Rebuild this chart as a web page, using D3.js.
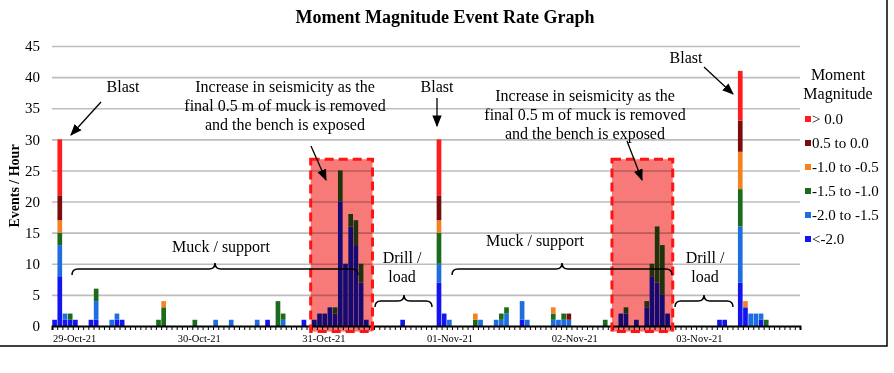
<!doctype html>
<html>
<head>
<meta charset="utf8">
<title>Moment Magnitude Event Rate Graph</title>
<script src="https://cdn.jsdelivr.net/npm/d3@7"></script>
<style>
    body { margin: 0; background: #fff; }
    svg text { font-family: "Liberation Serif", "DejaVu Serif", serif; fill: #000; }
</style>
</head>
<body>
<div id="board"></div>
<script>
"use strict";
// hours since 29-Oct-21 00:00 that have events (all other hours are empty)
const hours = [0,1,2,3,4,7,8,11,12,13,20,21,
               27,31,34,39,41,43,44,
               48,50,51,52,53,54,55,56,57,58,59,60,67,
               74,75,76,81,82,85,86,87,90,91,
               96,97,98,99,106,109,110,112,114,115,116,117,118,
               128,129,132,133,134,135,136,137];
// events per hour for each magnitude bin, same order as hours
const lt20 = [1,8,1,1,1,1,1,0,1,1,0,0,
              0,0,0,0,1,0,0,
              1,1,2,2,3,2,20,10,16,13,7,1,1,
              7,2,0,0,0,0,0,0,1,0,
              0,0,0,0,0,2,2,1,3,8,7,5,2,
              1,1,7,3,0,0,1,0];
const m20  = [0,5,1,0,0,0,3,1,1,0,0,0,
              0,1,1,1,0,0,1,
              0,0,0,0,0,0,0,0,0,0,0,0,0,
              3,0,1,0,1,1,1,2,3,1,
              1,1,1,1,0,0,0,0,0,0,0,0,0,
              0,0,9,0,2,2,1,0];
const m15  = [0,2,0,1,0,0,2,0,0,0,1,3,
              1,0,0,0,0,4,1,
              0,0,0,0,0,1,5,0,2,4,3,0,0,
              5,0,0,1,0,0,1,1,0,0,
              1,0,1,0,1,0,1,0,1,2,9,8,0,
              0,0,6,0,0,0,0,1];
const m10  = [0,2,0,0,0,0,0,0,0,0,0,1,
              0,0,0,0,0,0,0,
              0,0,0,0,0,0,0,0,0,0,0,0,0,
              2,0,0,1,0,0,0,0,0,0,
              1,0,0,0,0,0,0,0,0,0,0,0,0,
              0,0,6,1,0,0,0,0];
const m05  = [0,4,0,0,0,0,0,0,0,0,0,0,
              0,0,0,0,0,0,0,
              0,0,0,0,0,0,0,0,0,0,0,0,0,
              4,0,0,0,0,0,0,0,0,0,
              0,0,0,1,0,0,0,0,0,0,0,0,0,
              0,0,5,0,0,0,0,0];
const gt0  = [0,9,0,0,0,0,0,0,0,0,0,0,
              0,0,0,0,0,0,0,
              0,0,0,0,0,0,0,0,0,0,0,0,0,
              9,0,0,0,0,0,0,0,0,0,
              0,0,0,0,0,0,0,0,0,0,0,0,0,
              0,0,8,0,0,0,0,0];

const seriesKeys   = ["lt20", "m20", "m15", "m10", "m05", "gt0"];
const seriesNames  = ["<-2.0", "-2.0 to -1.5", "-1.5 to -1.0", "-1.0 to -0.5", "0.5 to 0.0", "> 0.0"];
const seriesColors = ["#1414f0", "#1f6ee0", "#1c6a1c", "#f5821f", "#7a0c0c", "#ff1c1c"];
const dayLabels = ["29-Oct-21", "30-Oct-21", "31-Oct-21", "01-Nov-21", "02-Nov-21", "03-Nov-21"];
const yTicks = [0, 5, 10, 15, 20, 25, 30, 35, 40, 45];
const numHours = 144;
// highlighted periods (hour ranges) and their top value
const boxes = [[49.8, 61.7], [107.8, 119.5]];
const boxTop = 26.8, boxBottom = -0.9;

const _width = 894, _height = 373;
const plotLeft = 52, plotRight = 800, plotTop = 46, plotBottom = 326;

var svg = d3.select("#board").append("svg")
    .attr("width", _width).attr("height", _height);
svg.append("rect").attr("width", _width).attr("height", _height).attr("fill", "#fff");

// full hourly table
const series = {lt20, m20, m15, m10, m05, gt0};
const table = d3.range(numHours).map(h => {
    const k = hours.indexOf(h);
    const row = {hour: h};
    seriesKeys.forEach(s => row[s] = k < 0 ? 0 : series[s][k]);
    return row;
});

const xBand = d3.scaleBand().domain(d3.range(numHours)).range([plotLeft, plotRight]).paddingInner(0.1).paddingOuter(0.05);
const xHour = d3.scaleLinear().domain([0, numHours]).range([plotLeft, plotRight]);
const y = d3.scaleLinear().domain([0, 45]).range([plotBottom, plotTop]);

// gridlines
svg.append("g")
    .attr("transform", "translate(" + plotLeft + ",0)")
    .call(d3.axisLeft(y).tickValues(yTicks.slice(1)).tickSize(-(plotRight - plotLeft)).tickFormat(""))
    .call(g => g.select(".domain").remove())
    .call(g => g.selectAll("line").attr("stroke", "#bdbdbd").attr("stroke-width", 1.6));

// y tick labels
svg.append("g").selectAll("text")
    .data(yTicks).enter().append("text")
    .attr("x", 40).attr("y", d => y(d)).attr("dy", "0.35em")
    .attr("text-anchor", "end").style("font-size", "15px")
    .text(d => d);

// stacked bars
const stacked = d3.stack().keys(seriesKeys)(table);
svg.append("g").selectAll("g")
    .data(stacked).enter().append("g")
    .attr("fill", (d, i) => seriesColors[i])
    .selectAll("rect")
    .data(d => d.filter(p => p[1] > p[0])).enter().append("rect")
    .attr("x", d => xBand(d.data.hour))
    .attr("width", xBand.bandwidth())
    .attr("y", d => y(d[1]))
    .attr("height", d => y(d[0]) - y(d[1]));

// x axis: hourly ticks
svg.append("g")
    .attr("transform", "translate(0," + plotBottom + ")")
    .call(d3.axisBottom(xHour).tickValues(d3.range(0, numHours + 1)).tickSize(4).tickFormat(""))
    .call(g => g.select(".domain").attr("stroke", "#000").attr("stroke-width", 2))
    .call(g => g.selectAll("line").attr("stroke", "#000").attr("stroke-width", 1));

svg.append("g").selectAll("text")
    .data(dayLabels).enter().append("text")
    .attr("x", (d, i) => xHour(i * 24) + 1).attr("y", 342)
    .style("font-size", "10.5px")
    .text(d => d);

// highlighted boxes
svg.append("g").selectAll("rect")
    .data(boxes).enter().append("rect")
    .attr("x", d => xHour(d[0])).attr("width", d => xHour(d[1]) - xHour(d[0]))
    .attr("y", y(boxTop)).attr("height", y(boxBottom) - y(boxTop))
    .attr("fill", "#f87a78")
    .style("mix-blend-mode", "multiply");
svg.append("g").selectAll("rect")
    .data(boxes).enter().append("rect")
    .attr("x", d => xHour(d[0])).attr("width", d => xHour(d[1]) - xHour(d[0]))
    .attr("y", y(boxTop)).attr("height", y(boxBottom) - y(boxTop))
    .attr("fill", "none").attr("stroke", "#ff1414").attr("stroke-width", 3)
    .attr("stroke-dasharray", "9,5");

// title and y label
svg.append("text").attr("x", 445).attr("y", 23).attr("text-anchor", "middle")
    .style("font-size", "18px").style("font-weight", "bold")
    .text("Moment Magnitude Event Rate Graph");
svg.append("text").attr("transform", "translate(19,186) rotate(-90)").attr("text-anchor", "middle")
    .style("font-size", "14px").style("font-weight", "bold")
    .text("Events / Hour");

// arrows
svg.append("defs").append("marker")
    .attr("id", "arrow").attr("viewBox", "0 0 10 10").attr("refX", 9).attr("refY", 5)
    .attr("markerWidth", 9).attr("markerHeight", 9).attr("orient", "auto")
    .append("path").attr("d", "M0,1 L10,5 L0,9 z").attr("fill", "#000");

const arrows = [[101, 102, 71, 135], [311, 146, 326, 180], [437, 98, 437, 126],
                [627, 141, 642, 180], [704, 67, 733, 94]];
svg.append("g").selectAll("line")
    .data(arrows).enter().append("line")
    .attr("x1", d => d[0]).attr("y1", d => d[1]).attr("x2", d => d[2]).attr("y2", d => d[3])
    .attr("stroke", "#000").attr("stroke-width", 1.3).attr("marker-end", "url(#arrow)");

// annotation text
function label(x, y0, lines, size) {
    const t = svg.append("text").attr("text-anchor", "middle").style("font-size", size);
    lines.forEach((s, i) => t.append("tspan").attr("x", x).attr("y", y0 + i * 19).text(s));
}
label(123, 92, ["Blast"], "16px");
label(437, 92, ["Blast"], "16px");
label(686, 63, ["Blast"], "16px");
label(285, 92, ["Increase in seismicity as the", "final 0.5 m of muck is removed", "and the bench is exposed"], "16px");
label(585, 101, ["Increase in seismicity as the", "final 0.5 m of muck is removed", "and the bench is exposed"], "16px");
label(221, 252, ["Muck / support"], "16px");
label(535, 246, ["Muck / support"], "16px");
label(402, 263, ["Drill /", "load"], "16px");
label(705, 263, ["Drill /", "load"], "16px");

// curly braces
function brace(x1, x2, xm, yb, d) {
    const p = "M" + x1 + "," + (yb + d) + " Q" + x1 + "," + yb + " " + (x1 + d) + "," + yb +
        " L" + (xm - d) + "," + yb + " Q" + xm + "," + yb + " " + xm + "," + (yb - d) +
        " Q" + xm + "," + yb + " " + (xm + d) + "," + yb +
        " L" + (x2 - d) + "," + yb + " Q" + x2 + "," + yb + " " + x2 + "," + (yb + d);
    svg.append("path").attr("d", p).attr("fill", "none").attr("stroke", "#000").attr("stroke-width", 1.5);
}
brace(72, 358, 215, 269, 6);
brace(375, 432, 404, 301, 6);
brace(452, 672, 562, 269, 6);
brace(675, 733, 704, 301, 6);

// legend
label(838, 80, ["Moment", "Magnitude"], "16px");
const legendOrder = d3.range(seriesKeys.length).reverse();
const lg = svg.append("g").selectAll("g")
    .data(legendOrder).enter().append("g")
    .attr("transform", (d, i) => "translate(805," + (119 + i * 24) + ")");
lg.append("rect").attr("x", 0).attr("y", -3).attr("width", 6).attr("height", 6)
    .attr("fill", d => seriesColors[d]);
lg.append("text").attr("x", 7).attr("y", 5).style("font-size", "15px")
    .text(d => seriesNames[d]);

// chart frame (right and bottom edges)
svg.append("path").attr("d", "M887,0 L887,346 L0,346")
    .attr("fill", "none").attr("stroke", "#000").attr("stroke-width", 1.5);
</script>
</body>
</html>
